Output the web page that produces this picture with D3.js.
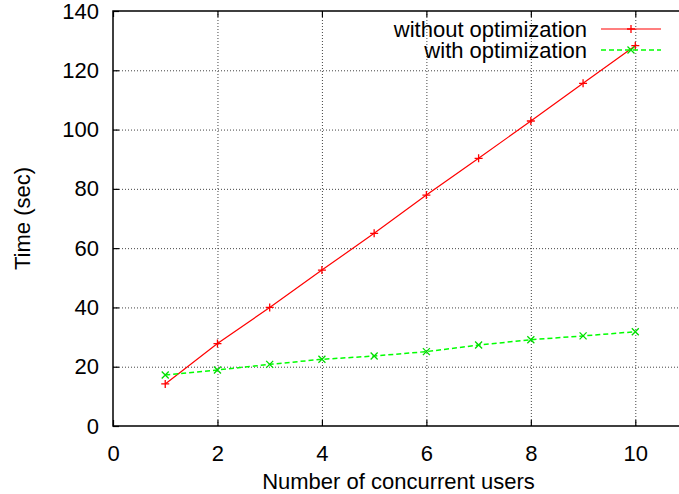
<!DOCTYPE html>
<meta charset="utf-8">
<style>
body { margin: 0; background: #fff; }
text { font-family: "Liberation Sans", Arial, sans-serif; fill: #000; }
.grid line { stroke: #444; stroke-width: 1; stroke-dasharray: 1,2; }
</style>
<svg width="679" height="494"></svg>
<script src="https://d3js.org/d3.v7.min.js"></script>
<script>

// data
var users = [1, 2, 3, 4, 5, 6, 7, 8, 9, 10];
var withoutOpt = [14.2, 27.8, 40.0, 52.6, 65.0, 77.9, 90.3, 102.9, 115.6, 128.3];
var withOpt = [17.2, 18.9, 20.8, 22.5, 23.6, 25.1, 27.3, 29.1, 30.4, 31.8];
var xTicks = [0, 2, 4, 6, 8, 10];
var yTicks = [0, 20, 40, 60, 80, 100, 120, 140];
var seriesNames = ["without optimization", "with optimization"];

var svg = d3.select("svg"),
    pLeft = 113, pTop = 11, pBottom = 426, pRight = 679,
    fs = 22;

var x = d3.scaleLinear().domain([0, 10]).range([pLeft, 635.3]);
var y = d3.scaleLinear().domain([0, 140]).range([pBottom, pTop]);

// grid
var grid = svg.append("g").attr("class", "grid");
grid.selectAll(".gx").data(xTicks.filter(function(d) { return d > 0; }))
  .enter().append("line")
    .attr("x1", function(d) { return x(d) + 0.5; }).attr("x2", function(d) { return x(d) + 0.5; })
    .attr("y1", pTop).attr("y2", pBottom);
grid.selectAll(".gy").data(yTicks.filter(function(d) { return d > 0 && d < 140; }))
  .enter().append("line")
    .attr("x1", pLeft).attr("x2", pRight)
    .attr("y1", function(d) { return y(d) + 0.5; }).attr("y2", function(d) { return y(d) + 0.5; });

// axes: inward ticks like gnuplot
var xAxis = d3.axisBottom(x).tickValues(xTicks).tickSize(-6).tickPadding(14);
var gx = svg.append("g").attr("transform", "translate(0," + pBottom + ")").call(xAxis);
var xTop = d3.axisTop(x).tickValues(xTicks).tickSize(-6).tickFormat("");
var gxt = svg.append("g").attr("transform", "translate(0," + pTop + ")").call(xTop);
var yAxis = d3.axisLeft(y).tickValues(yTicks).tickSize(-6).tickPadding(14);
var gy = svg.append("g").attr("transform", "translate(" + pLeft + ",0)").call(yAxis);

[gx, gxt, gy].forEach(function(g) {
  g.select(".domain").remove();
  g.selectAll(".tick line").attr("stroke", "#000").attr("stroke-width", 1.2);
  g.selectAll("text").attr("font-size", fs).attr("font-family", "Liberation Sans, Arial, sans-serif");
});
gx.selectAll("text").attr("dy", "0.95em");

// border (left, top, bottom)
svg.append("path")
  .attr("d", "M" + pRight + "," + pTop + "H" + pLeft + "V" + pBottom + "H" + pRight)
  .attr("fill", "none").attr("stroke", "#000").attr("stroke-width", 1.5);

// axis titles
svg.append("text").attr("x", 398.5).attr("y", 489)
  .attr("text-anchor", "middle").attr("font-size", fs).text("Number of concurrent users");
svg.append("text").attr("transform", "translate(30," + ((pTop + pBottom) / 2) + ") rotate(-90)")
  .attr("text-anchor", "middle").attr("font-size", fs).text("Time (sec)");

var line = d3.line().x(function(d) { return x(d[0]); }).y(function(d) { return y(d[1]); });

function plus(g, cx, cy, color) {
  g.append("path").attr("d", "M" + (cx - 4) + "," + cy + "H" + (cx + 4) + "M" + cx + "," + (cy - 4) + "V" + (cy + 4))
    .attr("stroke", color).attr("stroke-width", 1.3).attr("fill", "none");
}
function cross(g, cx, cy, color) {
  g.append("path").attr("d", "M" + (cx - 3.5) + "," + (cy - 3.5) + "L" + (cx + 3.5) + "," + (cy + 3.5) +
      "M" + (cx - 3.5) + "," + (cy + 3.5) + "L" + (cx + 3.5) + "," + (cy - 3.5))
    .attr("stroke", color).attr("stroke-width", 1.3).attr("fill", "none");
}

var redPts = users.map(function(u, i) { return [u, withoutOpt[i]]; });
var greenPts = users.map(function(u, i) { return [u, withOpt[i]]; });

var gRed = svg.append("g");
gRed.append("path").datum(redPts).attr("d", line)
  .attr("fill", "none").attr("stroke", "#ff0000").attr("stroke-width", 1.2);
redPts.forEach(function(p) { plus(gRed, x(p[0]), y(p[1]), "#ff0000"); });

var gGreen = svg.append("g");
gGreen.append("path").datum(greenPts).attr("d", line)
  .attr("fill", "none").attr("stroke", "#00ff00").attr("stroke-width", 1.5).attr("stroke-dasharray", "5,3");
greenPts.forEach(function(p) { cross(gGreen, x(p[0]), y(p[1]), "#00dd00"); });

// legend
var legend = svg.append("g");
var colors = ["#ff0000", "#00ff00"];
seriesNames.forEach(function(name, i) {
  var ly = 29 + i * 21;
  legend.append("text").attr("x", 587).attr("y", ly).attr("dy", "0.35em")
    .attr("text-anchor", "end").attr("font-size", fs).text(name);
  legend.append("line").attr("x1", 601).attr("x2", 661).attr("y1", ly).attr("y2", ly)
    .attr("stroke", colors[i]).attr("stroke-width", i ? 1.5 : 1.2)
    .attr("stroke-dasharray", i ? "5,3" : null);
  if (i) cross(legend, 631, ly, "#00dd00"); else plus(legend, 631, ly, "#ff0000");
});

</script>
